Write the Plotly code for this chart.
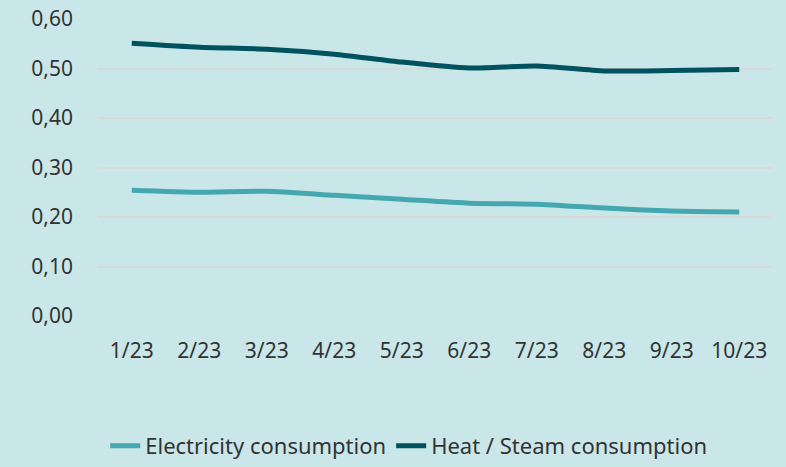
import plotly.graph_objects as go

months = ["1/23", "2/23", "3/23", "4/23", "5/23", "6/23", "7/23", "8/23", "9/23", "10/23"]
electricity = [0.254, 0.250, 0.252, 0.244, 0.236, 0.228, 0.226, 0.218, 0.212, 0.210]
heat_steam = [0.551, 0.543, 0.539, 0.529, 0.513, 0.501, 0.505, 0.495, 0.496, 0.498]
y_ticks = [0.0, 0.1, 0.2, 0.3, 0.4, 0.5, 0.6]
y_labels = ["0,00", "0,10", "0,20", "0,30", "0,40", "0,50", "0,60"]

fig = go.Figure()
fig.add_trace(go.Scatter(x=months, y=electricity, mode="lines", name="Electricity consumption",
                         line=dict(color="#45a8b0", width=5, shape="spline", smoothing=0.6)))
fig.add_trace(go.Scatter(x=months, y=heat_steam, mode="lines", name="Heat / Steam consumption",
                         line=dict(color="#00525e", width=5, shape="spline", smoothing=0.6)))

bg = "#c9e7e9"
fig.update_layout(
    width=786, height=467,
    paper_bgcolor=bg, plot_bgcolor=bg,
    margin=dict(l=98, r=13, t=19, b=151),
    font=dict(family="Noto Sans", size=21, color="#333333"),
    showlegend=True,
    legend=dict(orientation="h", xref="container", yref="container",
                x=0.52, xanchor="center", y=0.045, yanchor="middle",
                font=dict(size=22, color="#333333"), tracegroupgap=0),
    xaxis=dict(showgrid=False, showline=False, zeroline=False, ticks="", ticklabelstandoff=20,
               range=[-0.5, 9.5], automargin=False),
    yaxis=dict(range=[0, 0.6], tickvals=y_ticks, ticktext=y_labels, showgrid=True,
               gridcolor="#d9d9d9", gridwidth=2, zeroline=False, showline=False,
               ticks="", ticklabelstandoff=24, automargin=False),
)
fig.write_html("out.html", config={"displayModeBar": False},
               post_script="document.body.style.margin='0';document.body.style.overflow='hidden';")
